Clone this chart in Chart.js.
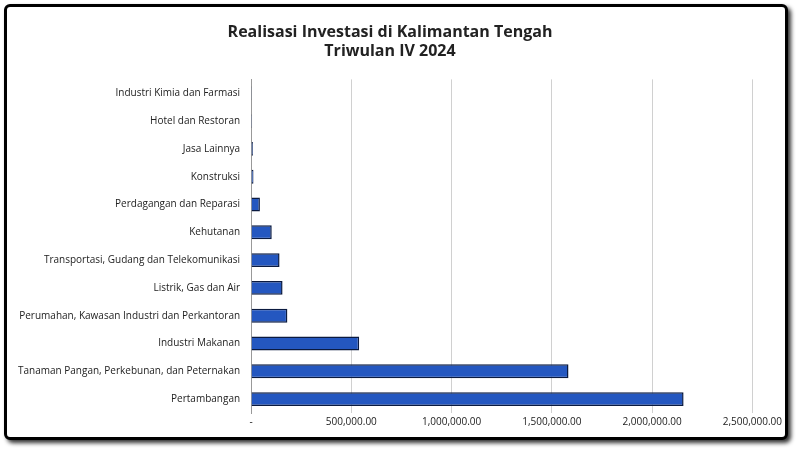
<!DOCTYPE html>
<html><head><script src="https://cdn.jsdelivr.net/npm/chart.js"></script>
<style>
html,body{margin:0;padding:0;background:#fff;}
#wrap{position:absolute;left:4px;top:4px;width:784px;height:436px;border:3px solid #000;border-radius:6px;box-shadow:3px 3px 4px #333;background:#fff;box-sizing:border-box;}
</style></head><body>
<div id="wrap"><canvas id="c" width="778" height="430"></canvas></div>
<script>
const categories=["Industri Kimia dan Farmasi","Hotel dan Restoran","Jasa Lainnya","Konstruksi","Perdagangan dan Reparasi","Kehutanan","Transportasi, Gudang dan Telekomunikasi","Listrik, Gas dan Air","Perumahan, Kawasan Industri dan Perkantoran","Industri Makanan","Tanaman Pangan, Perkebunan, dan Peternakan","Pertambangan"];
const values=[4000,5000,9000,12000,44000,103000,142000,157000,181000,539000,1583000,2157000];
const ctx=document.getElementById('c').getContext('2d');
function barFill(c){
  const el=c.element;
  if(!el||!isFinite(el.y)||!isFinite(el.height))return '#2457c0';
  const h=el.height||10;
  const g=c.chart.ctx.createLinearGradient(0,el.y-h/2,0,el.y+h/2);
  g.addColorStop(0,'#5a86e0');g.addColorStop(0.5,'#1f4fb8');g.addColorStop(1,'#0f2f80');return g;
}
new Chart(ctx,{type:'bar',
data:{labels:categories,datasets:[{data:values,
backgroundColor:barFill,
borderColor:'#0a1a40',borderWidth:1.5,barPercentage:0.5,categoryPercentage:1}]},
options:{indexAxis:'y',responsive:false,animation:false,
layout:{padding:{left:8,right:20,top:8,bottom:6}},
plugins:{legend:{display:false},
title:{display:true,text:['Realisasi Investasi di Kalimantan Tengah','Triwulan IV 2024'],font:{family:'Open Sans',size:16,weight:'bold'},color:'#222',padding:{top:8,bottom:18},lineHeight:1.25}},
scales:{x:{min:0,max:2500000,ticks:{stepSize:500000,font:{family:'Open Sans',size:10},color:'#222',
callback:v=>v===0?'-':v.toLocaleString('en-US',{minimumFractionDigits:2})},
grid:{color:'#d0d0d0',drawTicks:false},border:{display:false}},
y:{ticks:{font:{family:'Open Sans',size:10},color:'#222'},grid:{display:false},border:{color:'#999'}}}}});
</script></body></html>
